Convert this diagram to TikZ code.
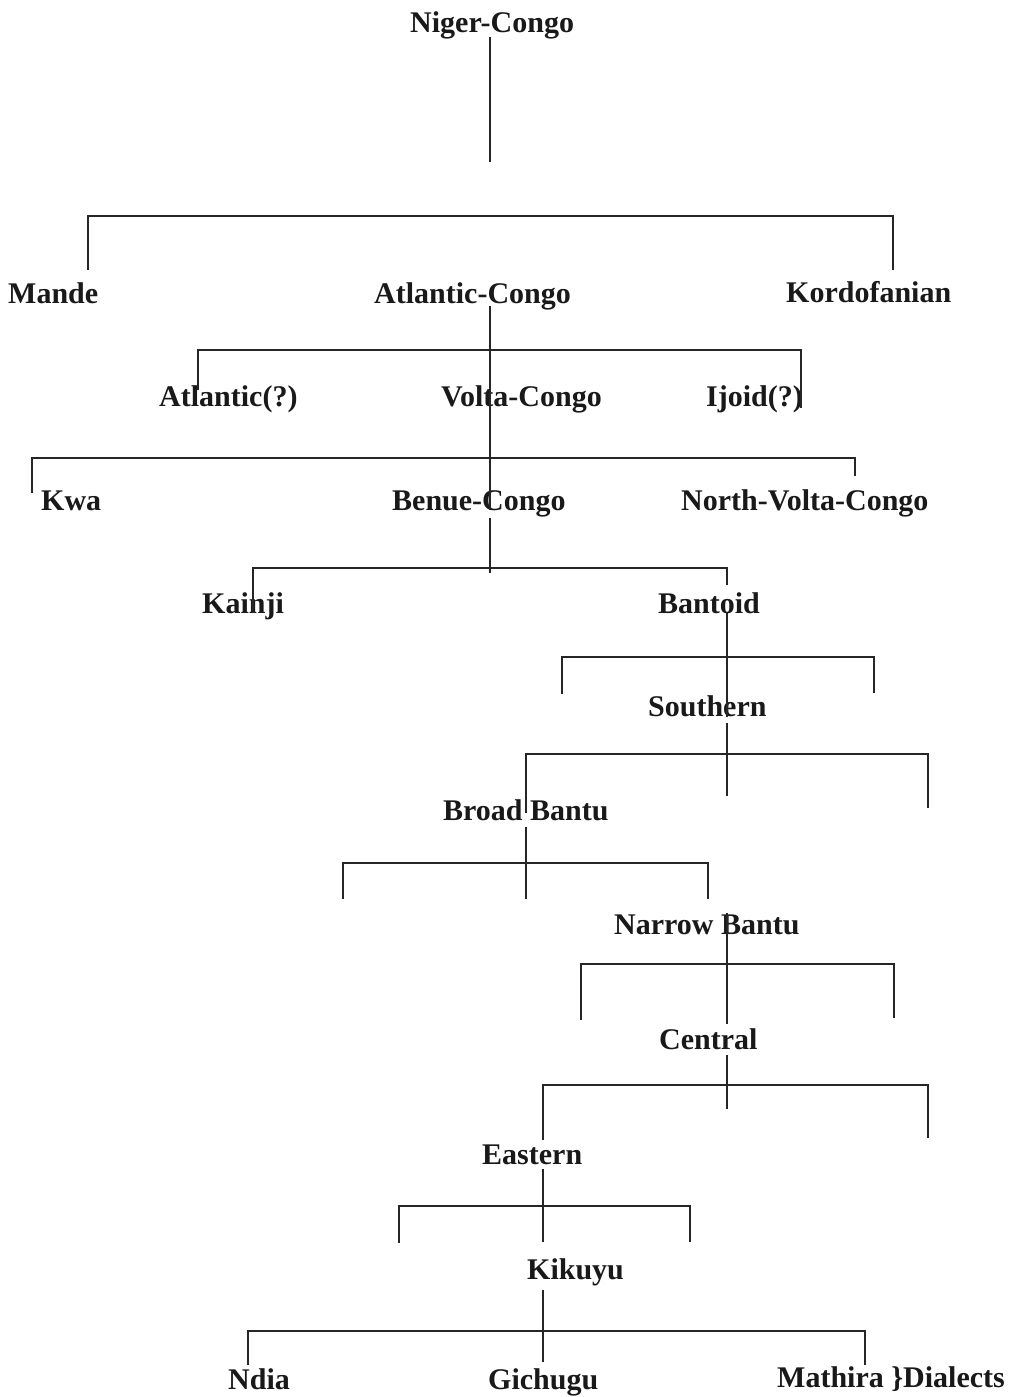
\documentclass[tikz,border=0pt]{standalone}
\usepackage{fontspec}
\setmainfont{Liberation Serif}
\begin{document}
\begin{tikzpicture}[x=1pt,y=-1pt,
  lbl/.style={anchor=base west,inner sep=0pt,font=\fontsize{30}{36}\selectfont\bfseries,text=black!90},
  tline/.style={draw=black!85,line width=1.5pt}]
\useasboundingbox[fill=white] (0,0) rectangle (1016,1397);
% labels
\node[lbl] (niger) at (410,33) {Niger-Congo};
\node[lbl] (mande) at (8,303) {Mande};
\node[lbl] (atlcongo) at (374,303) {Atlantic-Congo};
\node[lbl] (kordo) at (786,302) {Kordofanian};
\node[lbl] (atlantic) at (159,406) {Atlantic(?)};
\node[lbl] (volta) at (441,406) {Volta-Congo};
\node[lbl] (ijoid) at (706,406) {Ijoid(?)};
\node[lbl] (kwa) at (41,510) {Kwa};
\node[lbl] (benue) at (392,510) {Benue-Congo};
\node[lbl] (nvc) at (681,510) {North-Volta-Congo};
\node[lbl] (kainji) at (202,613) {Kainji};
\node[lbl] (bantoid) at (658,613) {Bantoid};
\node[lbl] (southern) at (648,716) {Southern};
\node[lbl] (broad) at (443,820) {Broad Bantu};
\node[lbl] (narrow) at (614,934) {Narrow Bantu};
\node[lbl] (central) at (659,1049) {Central};
\node[lbl] (eastern) at (482,1164) {Eastern};
\node[lbl] (kikuyu) at (527,1279) {Kikuyu};
\node[lbl] (ndia) at (228,1389) {Ndia};
\node[lbl] (gichugu) at (488,1389) {Gichugu};
\node[lbl] (mathira) at (777,1387) {Mathira \}Dialects};
% connectors
\draw[tline] (490,37) -- (490,162);
\draw[tline] (88,270) |- (893,216) -- (893,270);
\draw[tline] (490,306) -- (490,510);
\draw[tline] (198,390) |- (801,350) -- (801,408);
\draw[tline] (32,493) |- (855,458) -- (855,476);
\draw[tline] (490,518) -- (490,573);
\draw[tline] (253,613) |- (727,568) -- (727,585);
\draw[tline] (727,613) -- (727,717);
\draw[tline] (562,694) |- (874,657) -- (874,693);
\draw[tline] (727,723) -- (727,796);
\draw[tline] (526,813) |- (928,754) -- (928,808);
\draw[tline] (526,827) -- (526,899);
\draw[tline] (343,899) |- (708,863) -- (708,899);
\draw[tline] (727,913) -- (727,1024);
\draw[tline] (581,1020) |- (894,964) -- (894,1018);
\draw[tline] (727,1055) -- (727,1109);
\draw[tline] (543,1140) |- (928,1085) -- (928,1138);
\draw[tline] (543,1169) -- (543,1242);
\draw[tline] (399,1243) |- (690,1206) -- (690,1242);
\draw[tline] (543,1290) -- (543,1362);
\draw[tline] (248,1365) |- (865,1331) -- (865,1365);
\end{tikzpicture}
\end{document}
